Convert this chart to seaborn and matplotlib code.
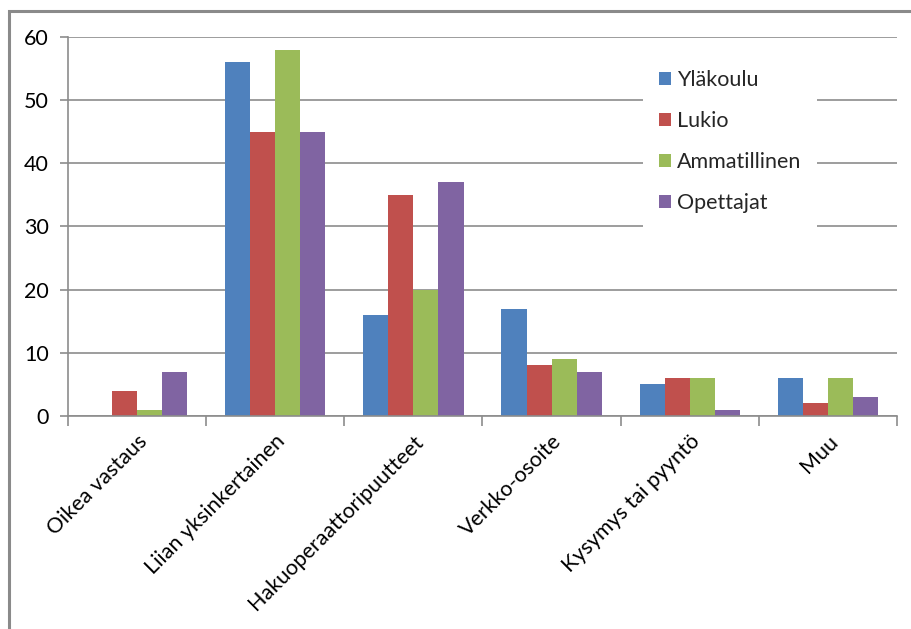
import matplotlib
matplotlib.use("Agg")
import matplotlib.pyplot as plt
from matplotlib.patches import Rectangle
from matplotlib.ticker import FixedLocator, MultipleLocator
import pandas as pd
import seaborn as sns

categories = ["Oikea vastaus", "Liian yksinkertainen", "Hakuoperaattoripuutteet",
              "Verkko-osoite", "Kysymys tai pyyntö", "Muu"]
series = ["Yläkoulu", "Lukio", "Ammatillinen", "Opettajat"]
ylakoulu = [0, 56, 16, 17, 5, 6]
lukio = [4, 45, 35, 8, 6, 2]
ammatillinen = [1, 58, 20, 9, 6, 6]
opettajat = [7, 45, 37, 7, 1, 3]
colors = ["#4F81BD", "#C0504D", "#9BBB59", "#8064A2"]

rows = []
for name, vals in zip(series, [ylakoulu, lukio, ammatillinen, opettajat]):
    for cat, v in zip(categories, vals):
        rows.append({"Luokka": cat, "Ryhmä": name, "Arvo": v})
df = pd.DataFrame(rows)

sns.set_theme(style="white")
plt.rcParams["font.family"] = ["Lato", "DejaVu Sans"]
FS = 15.5

fig = plt.figure(figsize=(9.12, 6.29), dpi=100)
ax = fig.add_axes([68 / 912, 1 - 416 / 629, 829 / 912, 379 / 629])

sns.barplot(data=df, x="Luokka", y="Arvo", hue="Ryhmä", order=categories,
            hue_order=series, palette=colors, width=0.725, gap=0,
            saturation=1, ax=ax, legend=True, edgecolor="none", linewidth=0)

ax.set_xlim(-0.5, len(categories) - 0.5)
ax.set_ylim(0, 60)
ax.yaxis.set_major_locator(MultipleLocator(10))
ax.grid(axis="y", color="#8C8C8C", linewidth=1.2)
ax.set_axisbelow(True)
ax.set_xlabel("")
ax.set_ylabel("")

for side in ["top", "right"]:
    ax.spines[side].set_visible(False)
for side in ["left", "bottom"]:
    ax.spines[side].set_color("#8C8C8C")
    ax.spines[side].set_linewidth(1.2)

ax.tick_params(axis="y", length=6, width=1.2, color="#8C8C8C", pad=8,
               labelsize=FS, labelcolor="black", left=True)
ax.xaxis.set_minor_locator(FixedLocator([i - 0.5 for i in range(len(categories) + 1)]))
ax.tick_params(axis="x", which="minor", length=7, width=1.2, color="#8C8C8C", bottom=True)
ax.tick_params(axis="x", which="major", length=0, pad=11, labelsize=FS, labelcolor="black")
plt.setp(ax.get_xticklabels(), rotation=45, ha="right", rotation_mode="anchor")

handles, labels = ax.get_legend_handles_labels()
leg = ax.legend(handles, labels, loc="upper left", bbox_to_anchor=(0.694, 0.955),
                frameon=True, fancybox=False, framealpha=1, edgecolor="white",
                fontsize=FS, handlelength=0.55, handleheight=0.55,
                handletextpad=0.25, labelspacing=0.97, borderpad=0.75,
                borderaxespad=0)
leg.get_frame().set_linewidth(0)
leg.get_frame().set_facecolor("white")
leg.set_zorder(5)

# outer chart frame
fig.patches.append(Rectangle((9 / 912, -0.1), 1.2, 1 - 11 / 629 + 0.1,
                             transform=fig.transFigure, fill=False,
                             edgecolor="#8A8A8A", linewidth=2.2))

fig.savefig("out.png", dpi=100)
